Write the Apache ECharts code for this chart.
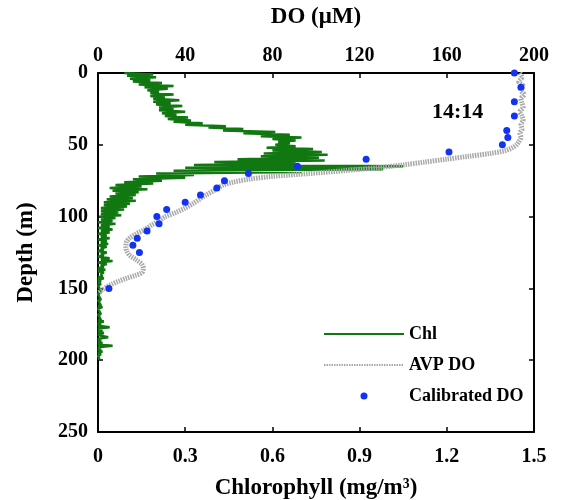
<!DOCTYPE html>
<html>
<head>
<meta charset="utf-8">
<script src="https://cdn.jsdelivr.net/npm/echarts@6/dist/echarts.min.js"></script>
<style>
  html, body { margin: 0; padding: 0; background: #fff; }
  #chart { width: 561px; height: 500px; }
</style>
</head>
<body>
<div id="chart"></div>
<script>
// Chlorophyll profile, one reading per metre of depth starting at the surface (mg/m3)
const chlStepM = 1;
const chlValues = [
  0.09, 0.19, 0.10, 0.20, 0.11, 0.18, 0.12, 0.22, 0.14, 0.26,
  0.16, 0.24, 0.17, 0.21, 0.18, 0.26, 0.18, 0.23, 0.19, 0.28,
  0.19, 0.25, 0.20, 0.29, 0.21, 0.26, 0.21, 0.30, 0.22, 0.27,
  0.23, 0.31, 0.24, 0.32, 0.26, 0.36, 0.30, 0.44, 0.38, 0.50,
  0.43, 0.61, 0.50, 0.66, 0.56, 0.70, 0.60, 0.68, 0.62, 0.66,
  0.61, 0.68, 0.58, 0.74, 0.60, 0.77, 0.57, 0.79, 0.56, 0.76,
  0.48, 0.78, 0.40, 0.68, 0.33, 1.05, 0.30, 0.98, 0.26, 0.70,
  0.20, 0.33, 0.14, 0.30, 0.12, 0.22, 0.09, 0.19, 0.06, 0.15,
  0.04, 0.17, 0.05, 0.14, 0.06, 0.13, 0.04, 0.12, 0.03, 0.13,
  0.02, 0.11, 0.02, 0.10, 0.01, 0.09, 0.01, 0.07, 0.01, 0.08,
  0.005, 0.06, 0.01, 0.05, 0.00, 0.06, 0.01, 0.04, 0.00, 0.05,
  0.01, 0.04, 0.00, 0.03, 0.01, 0.04, 0.00, 0.03, 0.01, 0.035,
  0.00, 0.03, 0.01, 0.02, 0.00, 0.03, 0.01, 0.02, 0.00, 0.04,
  0.01, 0.05, 0.00, 0.03, 0.01, 0.02, 0.00, 0.025, 0.00, 0.02,
  0.01, 0.015, 0.00, 0.02, 0.00, 0.01, 0.00, 0.01, 0.00, 0.005,
  0.00, 0.01, 0.00, 0.01, 0.00, 0.005, 0.00, 0.01, 0.00, 0.005,
  0.00, 0.01, 0.00, 0.015, 0.00, 0.005, 0.00, 0.01, 0.00, 0.005,
  0.00, 0.01, 0.00, 0.02, 0.00, 0.01, 0.00, 0.04, 0.00, 0.015,
  0.00, 0.02, 0.00, 0.01, 0.035, 0.00, 0.01, 0.00, 0.015, 0.00,
  0.05, 0.00, 0.01, 0.00, 0.015, 0.00, 0.01, 0.00, 0.005, 0.00
];

// Continuous profiler oxygen (AVP DO)
const avpDepth = [0, 3, 6, 9, 12, 15, 18, 21, 24, 27, 30, 33, 36, 39, 42, 45, 48, 50, 52, 54,
  56, 58, 60, 62, 64, 66, 68, 70, 72, 74, 76, 78, 80, 82, 85, 88, 91, 94, 97, 100,
  103, 106, 109, 112, 115, 118, 121, 124, 127, 130, 133, 136, 139, 141, 143, 145, 147, 149, 151, 153];
const avpDO = [193.5, 194.5, 193, 195, 194, 195.5, 194, 194.5, 195, 193.5, 194.5, 195, 194, 194.5, 193.5, 194, 193, 192, 190, 187,
  180, 170, 160, 150, 140, 128, 113, 97, 80, 69, 62, 57.5, 55, 53, 49.5, 46.5, 43.5, 40, 36, 31,
  28, 24.5, 21.5, 17.5, 14.5, 13, 12.8, 13.2, 14.5, 17.5, 20, 20.8, 20.2, 17, 13, 9.5, 6.5, 4, 2, 0.5];

// Calibrated bottle oxygen
const calDepth = [0, 10, 20, 30, 40, 45, 50, 55, 60, 65, 70, 75, 80, 85, 90, 95, 100, 105, 110, 115, 120, 125, 150];
const calDO = [191, 194, 191, 191, 187.5, 188, 185.5, 161, 123, 91.5, 69, 58, 54.5, 47, 40, 31.5, 27, 28, 22.5, 18, 16, 19, 5];

// Axis ranges and ticks
const chlTicks = [0, 0.3, 0.6, 0.9, 1.2, 1.5];
const doTicks = [0, 40, 80, 120, 160, 200];
const depthTicks = [0, 50, 100, 150, 200, 250];

const FONT = '"Liberation Serif", "Times New Roman", Times, serif';
const chlData = chlValues.map((v, i) => [v, i * chlStepM]);
const avpData = avpDepth.map((d, i) => [avpDO[i], d]);
const calData = calDepth.map((d, i) => [calDO[i], d]);

const CHL_GREEN = '#117811';
const AVP_GREY = '#a9a9a9';
const CAL_BLUE = '#1233f2';

const axisLineStyle = { color: '#000', width: 2 };
const tickStyle = { inside: true, length: 5, lineStyle: { color: '#000', width: 1.5 } };
const labelStyle = { fontFamily: FONT, fontWeight: 'bold', fontSize: 20, color: '#000' };
const nameStyle = { fontFamily: FONT, fontWeight: 'bold', fontSize: 23, color: '#000' };

const chart = echarts.init(document.getElementById('chart'), null, { renderer: 'canvas' });
chart.setOption({
  animation: false,
  backgroundColor: '#fff',
  grid: { left: 98, right: 27, top: 73, bottom: 68, containLabel: false, outerBoundsMode: 'none' },
  xAxis: [
    {
      type: 'value', position: 'bottom',
      min: chlTicks[0], max: chlTicks[chlTicks.length - 1], interval: chlTicks[1] - chlTicks[0],
      name: 'Chlorophyll (mg/m³)', nameLocation: 'middle', nameGap: 45, nameTextStyle: nameStyle,
      axisLine: { show: true, onZero: false, lineStyle: axisLineStyle },
      axisTick: tickStyle,
      axisLabel: Object.assign({ margin: 15, formatter: v => (v === 0 ? '0' : v.toFixed(1)) }, labelStyle),
      splitLine: { show: false }
    },
    {
      type: 'value', position: 'top',
      min: doTicks[0], max: doTicks[doTicks.length - 1], interval: doTicks[1] - doTicks[0],
      name: 'DO (μM)', nameLocation: 'middle', nameGap: 44, nameTextStyle: nameStyle,
      axisLine: { show: true, onZero: false, lineStyle: axisLineStyle },
      axisTick: tickStyle,
      axisLabel: Object.assign({ margin: 7 }, labelStyle),
      splitLine: { show: false }
    }
  ],
  yAxis: [
    {
      type: 'value', inverse: true, position: 'left',
      min: depthTicks[0], max: depthTicks[depthTicks.length - 1], interval: depthTicks[1] - depthTicks[0],
      name: 'Depth (m)', nameLocation: 'middle', nameGap: 60, nameRotate: 90, nameTextStyle: nameStyle,
      axisLine: { show: true, onZero: false, lineStyle: axisLineStyle },
      axisTick: tickStyle,
      axisLabel: Object.assign({ margin: 10 }, labelStyle),
      splitLine: { show: false }
    },
    {
      type: 'value', inverse: true, position: 'right',
      min: depthTicks[0], max: depthTicks[depthTicks.length - 1], interval: depthTicks[1] - depthTicks[0],
      axisLine: { show: true, onZero: false, lineStyle: axisLineStyle },
      axisTick: tickStyle,
      axisLabel: { show: false },
      splitLine: { show: false }
    }
  ],
  legend: {
    data: [
      { name: 'Chl', itemStyle: { opacity: 0 } },
      { name: 'AVP DO', itemStyle: { opacity: 0 } },
      { name: 'Calibrated DO' }
    ],
    orient: 'vertical', left: 318, top: 319,
    itemWidth: 80, itemHeight: 7, itemGap: 11,
    selectedMode: false,
    textStyle: { fontFamily: FONT, fontWeight: 'bold', fontSize: 18, color: '#000', lineHeight: 20 }
  },
  graphic: [
    {
      type: 'text', left: 432, top: 101,
      style: { text: '14:14', fill: '#000', font: 'bold 22px ' + FONT }
    }
  ],
  series: [
    {
      // each reading is drawn as a horizontal step at its depth
      name: 'Chl', type: 'line', xAxisIndex: 0, yAxisIndex: 0,
      data: chlData, symbol: 'none', showSymbol: false, step: 'start',
      lineStyle: { color: CHL_GREEN, width: 2.5 },
      itemStyle: { color: CHL_GREEN },
      z: 2
    },
    {
      name: 'AVP DO', type: 'line', xAxisIndex: 1, yAxisIndex: 0,
      data: avpData, symbol: 'none', showSymbol: false, smooth: 0.3,
      lineStyle: { color: AVP_GREY, width: 5, type: [1.5, 1] },
      itemStyle: { color: AVP_GREY },
      z: 3
    },
    {
      name: 'Calibrated DO', type: 'scatter', xAxisIndex: 1, yAxisIndex: 0,
      data: calData, symbol: 'circle', symbolSize: 7,
      itemStyle: { color: CAL_BLUE, opacity: 1 },
      z: 4
    }
  ]
});
</script>
</body>
</html>
